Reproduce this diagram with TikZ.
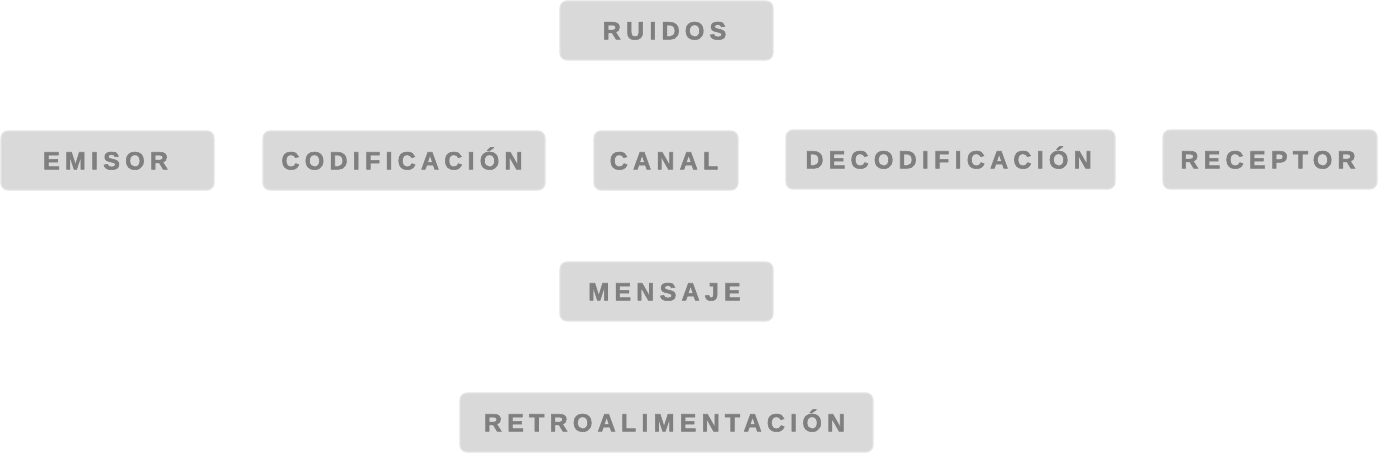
\documentclass[tikz,border=0pt]{standalone}
\usepackage{fontspec}
\setmainfont{Liberation Sans}
\newfontfamily\boxfont[LetterSpace=21,FakeBold=2.2]{Liberation Sans Bold}
\definecolor{boxfill}{HTML}{D9D9D9}
\definecolor{boxline}{HTML}{E4E4E4}
\definecolor{boxtext}{HTML}{7F7F7F}
\begin{document}
\begin{tikzpicture}[x=1pt,y=-1pt,
  lbl/.style={draw=boxline, line width=1.2pt, fill=boxfill, rounded corners=7pt,
    inner sep=0pt, anchor=center, minimum height=59pt},
  txt/.style={text=boxtext, font=\fontsize{25}{29}\boxfont, inner sep=0pt,
    text height=17.9pt, text depth=0pt, anchor=center, xshift=-2pt}]
\useasboundingbox (0,0) rectangle (1378,453);
\node[lbl, minimum width=213pt] (ruidos) at (666.5,30.5) {};
\node[txt] at (ruidos) {RUIDOS};
\node[lbl, minimum width=213pt] (emisor) at (107.5,160.5) {};
\node[txt] at (emisor) {EMISOR};
\node[lbl, minimum width=282pt] (cod) at (404,160.5) {};
\node[txt] at (cod) {CODIFICACIÓN};
\node[lbl, minimum width=144pt] (canal) at (666,160.5) {};
\node[txt] at (canal) {CANAL};
\node[lbl, minimum width=329pt] (dec) at (950.5,159.5) {};
\node[txt] at (dec) {DECODIFICACIÓN};
\node[lbl, minimum width=214pt] (rec) at (1270,159.5) {};
\node[txt] at (rec) {RECEPTOR};
\node[lbl, minimum width=213pt] (mensaje) at (666.5,291.5) {};
\node[txt] at (mensaje) {MENSAJE};
\node[lbl, minimum width=413pt] (retro) at (666.5,422.5) {};
\node[txt] at (retro) {RETROALIMENTACIÓN};
\end{tikzpicture}
\end{document}
